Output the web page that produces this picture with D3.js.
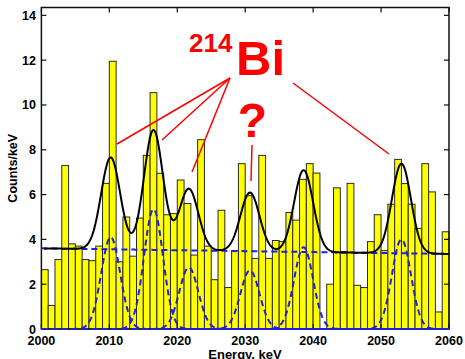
<!DOCTYPE html>
<html>
<head>
<meta charset="utf-8">
<script src="https://cdn.jsdelivr.net/npm/d3@7/dist/d3.min.js"></script>
<style>
  body { margin: 0; background: #fff; }
  text { font-family: "Liberation Sans", Arial, Helvetica, sans-serif; }
</style>
</head>
<body>
<svg id="chart" width="465" height="359"></svg>
<script>
// histogram: counts per 1 keV bin, bins start at 2000 ... 2059
const binStart = d3.range(2000, 2060);
const counts = [
  2.65, 1.05, 3.1, 7.3, 3.8, 3.7, 3.1, 3.05, 3.7, 6.5,
  11.95, 3.0, 5.0, 3.25, 4.95, 7.75, 10.55, 6.95, 5.1, 5.15,
  6.65, 5.6, 3.3, 8.45, 3.7, 2.2, 5.3, 1.85, 3.5, 7.38,
  5.95, 3.15, 7.75, 3.15, 3.95, 3.9, 5.2, 4.86, 6.68, 7.38,
  6.96, 0, 2.0, 6.3, 3.45, 6.5, 1.95, 1.85, 3.9, 5.1,
  3.5, 5.57, 7.57, 6.49, 5.57, 4.49, 7.38, 6.12, 0.76, 4.34
];

// fit: linear background + gaussian lines
const bgLevels = [3.6, 3.35];          // at 2000 and 2060 keV
const peakCenters = [2010.2, 2016.5, 2021.7, 2030.7, 2038.6, 2053.0];
const peakAmps = [4.1, 5.35, 2.75, 2.62, 3.65, 4.0];
const peakSigma = 1.4;

const xTicks = [2000, 2010, 2020, 2030, 2040, 2050, 2060];
const yTicks = [0, 2, 4, 6, 8, 10, 12, 14];

const svg = d3.select('#chart');
const pLeft = 41.4, pRight = 449, pTop = 7.5, pBottom = 329;

const x = d3.scaleLinear().domain([2000, 2060]).range([pLeft, pRight]);
const y = d3.scaleLinear().domain([0, 14.35]).range([pBottom, pTop]);

const bg = (e) => bgLevels[0] + (bgLevels[1] - bgLevels[0]) * (e - 2000) / 60;
const gauss = (e, i) => peakAmps[i] * Math.exp(-((e - peakCenters[i]) ** 2) / (2 * peakSigma * peakSigma));

// bars
svg.append('g')
  .selectAll('rect')
  .data(counts)
  .enter()
  .append('rect')
  .attr('x', (d, i) => x(binStart[i]))
  .attr('y', (d) => y(d))
  .attr('width', (d, i) => x(binStart[i] + 1) - x(binStart[i]))
  .attr('height', (d) => y(0) - y(d))
  .attr('fill', '#ffff00')
  .attr('stroke', '#2a2a2a')
  .attr('stroke-width', 1);

// frame + ticks
svg.append('rect')
  .attr('x', pLeft).attr('y', pTop)
  .attr('width', pRight - pLeft).attr('height', pBottom - pTop)
  .attr('fill', 'none').attr('stroke', '#111').attr('stroke-width', 1.5);

const tickLen = 5;
const axisG = svg.append('g').attr('stroke', '#111').attr('stroke-width', 1.2);
xTicks.forEach((t) => {
  axisG.append('line').attr('x1', x(t)).attr('x2', x(t)).attr('y1', pBottom).attr('y2', pBottom - tickLen);
  axisG.append('line').attr('x1', x(t)).attr('x2', x(t)).attr('y1', pTop).attr('y2', pTop + tickLen);
});
yTicks.forEach((t) => {
  axisG.append('line').attr('x1', pLeft).attr('x2', pLeft + tickLen).attr('y1', y(t)).attr('y2', y(t));
  axisG.append('line').attr('x1', pRight).attr('x2', pRight - tickLen).attr('y1', y(t)).attr('y2', y(t));
});

svg.append('g')
  .selectAll('text')
  .data(xTicks)
  .enter()
  .append('text')
  .attr('x', (d) => x(d))
  .attr('y', 345)
  .attr('text-anchor', 'middle')
  .attr('font-size', 12.5)
  .attr('font-weight', 'bold')
  .text((d) => d);

svg.append('g')
  .selectAll('text')
  .data(yTicks)
  .enter()
  .append('text')
  .attr('x', 36)
  .attr('y', (d) => y(d) + 4.5)
  .attr('text-anchor', 'end')
  .attr('font-size', 12.5)
  .attr('font-weight', 'bold')
  .text((d) => d);

// x label sits partly below the window edge, as in the source image
svg.append('text')
  .attr('x', 245).attr('y', 359)
  .attr('text-anchor', 'middle')
  .attr('font-size', 13).attr('font-weight', 'bold')
  .text('Energy, keV');

svg.append('text')
  .attr('transform', `translate(17, ${(pTop + pBottom) / 2}) rotate(-90)`)
  .attr('text-anchor', 'middle')
  .attr('font-size', 12.5).attr('font-weight', 'bold')
  .text('Counts/keV');

// fit curves
const energies = d3.range(2000, 2060.01, 0.1);
const line = d3.line().x((d) => x(d[0])).y((d) => y(d[1]));

const blue = svg.append('g')
  .attr('fill', 'none').attr('stroke', '#1f1fe0')
  .attr('stroke-width', 2).attr('stroke-dasharray', '6,4');
blue.append('path').attr('d', line(energies.map((e) => [e, bg(e)])));
peakCenters.forEach((c, i) => {
  blue.append('path').attr('d', line(energies.map((e) => [e, gauss(e, i)])));
});

svg.append('path')
  .attr('d', line(energies.filter((e) => e >= 2000.4).map((e) => [e, bg(e) + d3.sum(peakCenters, (c, i) => gauss(e, i))])))
  .attr('fill', 'none').attr('stroke', '#000').attr('stroke-width', 2);

// annotation
const red = '#ff0000';
const ann = svg.append('g').attr('stroke', red).attr('stroke-width', 1.5);
[[117, 144], [162, 140], [192, 172]].forEach((p) => {
  ann.append('line').attr('x1', 230).attr('y1', 78).attr('x2', p[0]).attr('y2', p[1]);
});
ann.append('line').attr('x1', 293).attr('y1', 83).attr('x2', 389).attr('y2', 154);
ann.append('line').attr('x1', 252).attr('y1', 145).attr('x2', 251).attr('y2', 181);

svg.append('text').attr('x', 189).attr('y', 52)
  .attr('font-size', 26).attr('font-weight', 'bold').attr('fill', red).text('214');
svg.append('text').attr('x', 236).attr('y', 75)
  .attr('font-size', 49).attr('font-weight', 'bold').attr('fill', red).text('Bi');
svg.append('text').attr('x', 252.5).attr('y', 137).attr('text-anchor', 'middle')
  .attr('font-size', 48).attr('font-weight', 'bold').attr('fill', red).text('?');
</script>
</body>
</html>
